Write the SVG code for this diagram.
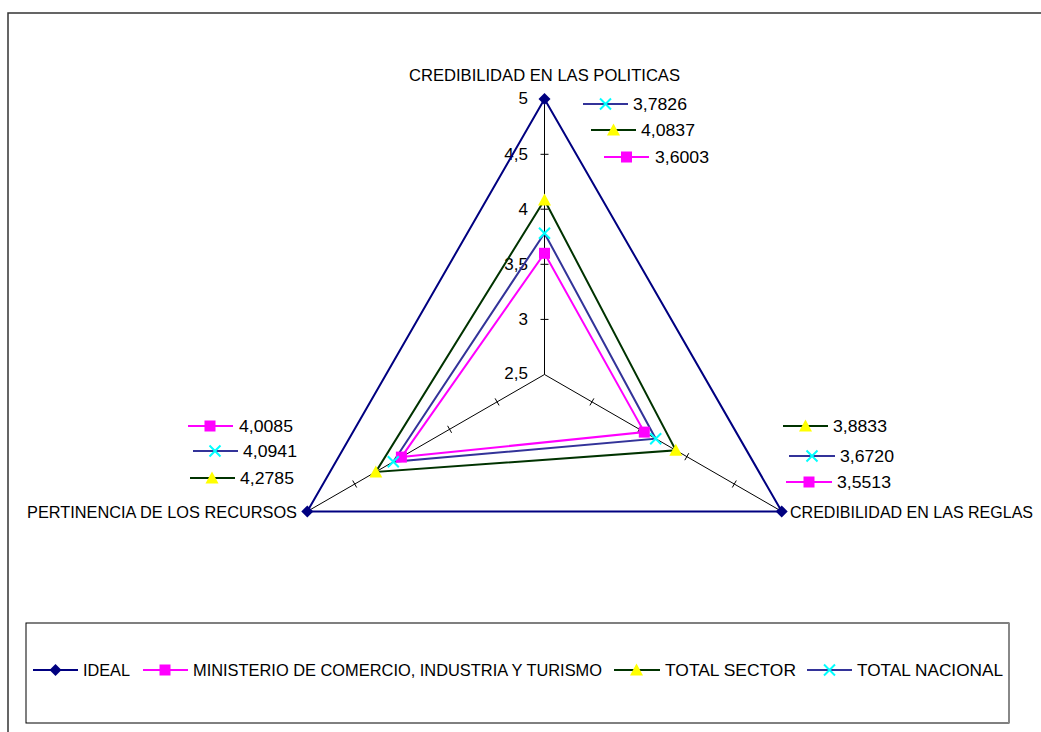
<svg xmlns="http://www.w3.org/2000/svg" xmlns:xlink="http://www.w3.org/1999/xlink" width="1041" height="732" viewBox="0 0 1041 732">
<style>
.t{font-family:"Liberation Sans",Arial,sans-serif;font-size:17px;fill:#000}
.ax{stroke:#000;stroke-width:1;fill:none}
.ideal{stroke:#000080;stroke-width:2;fill:none}
.min{stroke:#FF00FF;stroke-width:2;fill:none}
.sec{stroke:#003300;stroke-width:2;fill:none}
.nac{stroke:#333399;stroke-width:2;fill:none}
</style>
<defs>
<polygon id="mDia" points="0,-6 6,0 0,6 -6,0" fill="#000080"/>
<rect id="mSq" x="-5.5" y="-5.5" width="11" height="11" fill="#FF00FF"/>
<polygon id="mTri" points="0,-6.5 6.5,5.5 -6.5,5.5" fill="#FFFF00"/>
<path id="mX" d="M-5.5,-5.5L5.5,5.5M-5.5,5.5L5.5,-5.5" stroke="#00FFFF" stroke-width="2" fill="none"/>
</defs>
<rect width="1041" height="732" fill="#fff"/>
<path d="M8,732V13H1041" fill="none" stroke="#333" stroke-width="1.5"/>

<g id="axes">
<path class="ax" d="M544.5,374.5V99M544.5,374.5L781.7,511.4M544.5,374.5L307.3,511.4"/>
<path class="ax" d="M540.5,154.3h8M540.5,209.2h8M540.5,264.3h8M540.5,319.4h8"/>
<path class="ax" d="M589.9,405.4l4,-7M637.4,432.8l4,-7M684.8,460.2l4,-7M732.3,487.5l4,-7"/>
<path class="ax" d="M495.1,398.4l4,7M447.6,425.8l4,7M400.2,453.2l4,7M352.7,480.5l4,7"/>
<g class="t" text-anchor="end">
<text x="528" y="104">5</text>
<text x="528" y="160">4,5</text>
<text x="528" y="215">4</text>
<text x="528" y="270">3,5</text>
<text x="528" y="325">3</text>
<text x="528" y="379">2,5</text>
</g>
<text class="t" x="409" y="81" textLength="271" lengthAdjust="spacingAndGlyphs">CREDIBILIDAD EN LAS POLITICAS</text>
<text class="t" x="27" y="518" textLength="270" lengthAdjust="spacingAndGlyphs">PERTINENCIA DE LOS RECURSOS</text>
<text class="t" x="790" y="518" style="font-size:16px" textLength="243" lengthAdjust="spacingAndGlyphs">CREDIBILIDAD EN LAS REGLAS</text>
</g>

<g id="connectors">
<polygon class="ideal" points="544.5,99 781.7,511.4 307.3,511.4"/>
<polygon class="min" points="544.5,253.3 644.3,432.1 401.4,457.1"/>
<polygon class="sec" points="544.5,200 675.8,450.3 375.8,471.9"/>
<polygon class="nac" points="544.5,233.2 655.7,438.7 393.3,461.8"/>
</g>

<g id="series-ideal">
<use xlink:href="#mDia" x="544.5" y="99"/>
<use xlink:href="#mDia" x="781.7" y="511.4"/>
<use xlink:href="#mDia" x="307.3" y="511.4"/>
</g>
<g id="series-ministerio">
<use xlink:href="#mSq" x="544.5" y="253.3"/>
<use xlink:href="#mSq" x="644.3" y="432.1"/>
<use xlink:href="#mSq" x="401.4" y="457.1"/>
</g>
<g id="series-sector">
<use xlink:href="#mTri" x="544.5" y="200"/>
<use xlink:href="#mTri" x="675.8" y="450.3"/>
<use xlink:href="#mTri" x="375.8" y="471.9"/>
</g>
<g id="series-nacional">
<use xlink:href="#mX" x="544.5" y="233.2"/>
<use xlink:href="#mX" x="655.7" y="438.7"/>
<use xlink:href="#mX" x="393.3" y="461.8"/>
</g>

<g id="labels-top">
<path class="nac" d="M583,104h45"/><use xlink:href="#mX" x="605.5" y="104"/>
<text class="t" x="633" y="110" textLength="54" lengthAdjust="spacingAndGlyphs">3,7826</text>
<path class="sec" d="M591,130h45"/><use xlink:href="#mTri" x="613.5" y="130"/>
<text class="t" x="641" y="136" textLength="54" lengthAdjust="spacingAndGlyphs">4,0837</text>
<path class="min" d="M604,157h45"/><use xlink:href="#mSq" x="626.5" y="157"/>
<text class="t" x="655" y="163" textLength="54" lengthAdjust="spacingAndGlyphs">3,6003</text>
</g>
<g id="labels-left">
<path class="min" d="M188,426h45"/><use xlink:href="#mSq" x="210" y="426"/>
<text class="t" x="239" y="432" textLength="54" lengthAdjust="spacingAndGlyphs">4,0085</text>
<path class="nac" d="M193,451h45"/><use xlink:href="#mX" x="215" y="451"/>
<text class="t" x="243" y="457" textLength="54" lengthAdjust="spacingAndGlyphs">4,0941</text>
<path class="sec" d="M190,478h45"/><use xlink:href="#mTri" x="212" y="478"/>
<text class="t" x="240" y="484" textLength="54" lengthAdjust="spacingAndGlyphs">4,2785</text>
</g>
<g id="labels-right">
<path class="sec" d="M783,426h45"/><use xlink:href="#mTri" x="805.5" y="426"/>
<text class="t" x="833" y="432" textLength="54" lengthAdjust="spacingAndGlyphs">3,8833</text>
<path class="nac" d="M789,456h46"/><use xlink:href="#mX" x="812" y="456"/>
<text class="t" x="840" y="462" textLength="54" lengthAdjust="spacingAndGlyphs">3,6720</text>
<path class="min" d="M786,482h46"/><use xlink:href="#mSq" x="809" y="482"/>
<text class="t" x="837" y="488" textLength="54" lengthAdjust="spacingAndGlyphs">3,5513</text>
</g>

<g id="legend">
<rect x="26" y="623" width="983" height="100" fill="#fff" stroke="#000" stroke-width="1"/>
<path d="M1009,623V723" stroke="#888" stroke-width="2"/>
<path class="ideal" d="M33,670h45"/><use xlink:href="#mDia" x="55.5" y="670"/>
<text class="t" x="83" y="676" textLength="47" lengthAdjust="spacingAndGlyphs">IDEAL</text>
<path class="min" d="M143,670h45"/><use xlink:href="#mSq" x="165" y="670"/>
<text class="t" x="193" y="676" textLength="409" lengthAdjust="spacingAndGlyphs">MINISTERIO DE COMERCIO, INDUSTRIA Y TURISMO</text>
<path class="sec" d="M614,670h46"/><use xlink:href="#mTri" x="636.5" y="670"/>
<text class="t" x="665" y="676" textLength="131" lengthAdjust="spacingAndGlyphs">TOTAL SECTOR</text>
<path class="nac" d="M807,670h45"/><use xlink:href="#mX" x="829.5" y="670"/>
<text class="t" x="857" y="676" textLength="146" lengthAdjust="spacingAndGlyphs">TOTAL NACIONAL</text>
</g>
</svg>
